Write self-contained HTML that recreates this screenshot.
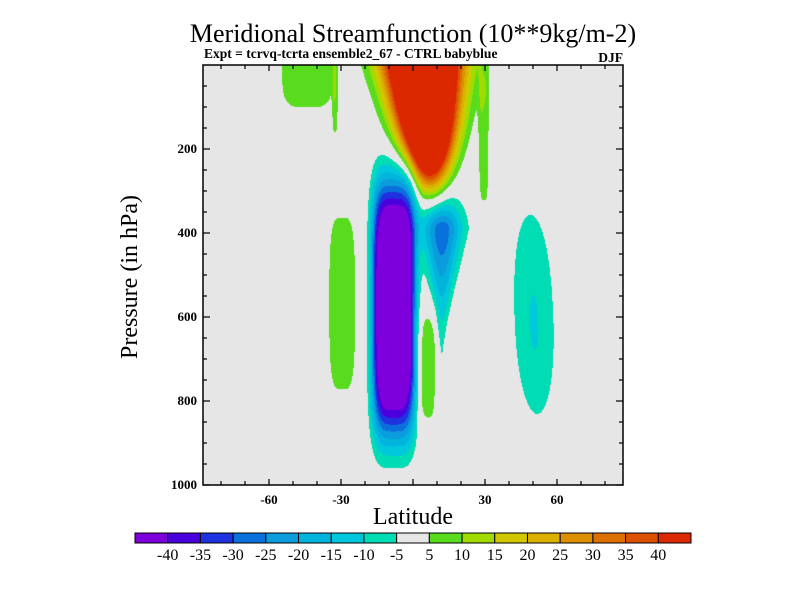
<!DOCTYPE html>
<html><head><meta charset="utf-8"><style>
html,body{margin:0;padding:0;background:#fff;}
#wrap{position:relative;width:800px;height:600px;overflow:hidden;font-family:"Liberation Serif",serif;}
canvas{position:absolute;left:203px;top:65px;}
svg{position:absolute;left:0;top:0;}
</style></head><body>
<div id="wrap">
<canvas id="cv" width="420" height="420"></canvas>
<svg id="sv" width="800" height="600">
<text x="413" y="42" text-anchor="middle" font-size="26" font-family="Liberation Serif, serif">Meridional Streamfunction (10**9kg/m-2)</text>
<text x="204" y="58" font-size="13.5" font-weight="bold" font-family="Liberation Serif, serif">Expt = tcrvq-tcrta  ensemble2_67 - CTRL babyblue</text>
<text x="623" y="62" text-anchor="end" font-size="13.5" font-weight="bold" font-family="Liberation Serif, serif">DJF</text>
<text x="413" y="524" text-anchor="middle" font-size="24" font-family="Liberation Serif, serif">Latitude</text>
<text x="137" y="277" text-anchor="middle" font-size="24" font-family="Liberation Serif, serif" transform="rotate(-90 137 277)">Pressure (in hPa)</text>
<g id="axes"></g>
<g id="cbar"></g>
</svg>
</div>
<script>
// contour levels & colours
const levels = [-40,-35,-30,-25,-20,-15,-10,-5,5,10,15,20,25,30,35,40];
const colors = ["#7d00dc","#4a00dc","#1e32e0","#0a70dc","#0a9cdc","#00b4dc","#00c8dc","#00dcb4","#e6e6e6","#5adc1e","#a0dc00","#d2c800","#dcb000","#dc9000","#dc7000","#dc5000","#dc2800"];
const cbarLabels = ["-40","-35","-30","-25","-20","-15","-10","-5","5","10","15","20","25","30","35","40"];
const xTickLabels = [-60,-30,30,60];
const yTickLabels = [200,400,600,800,1000];
// field features
const blobLat   = [4,   29.5, -44, -8,   12,  -29.5, 5.5, 50.5, -32.5];
const blobP     = [0,   100,  0,   570,  390, 568,   720, 620,  60];
const blobWLat  = [14.5,2.3,  12,  8.9,  8.5, 6.5,   4.3, 9.5,  1.2];
const blobWPUp  = [1,   100,  1,   290,  70,  263,   145, 300,  100];
const blobWPDn  = [262, 275,  115, 310,  210, 263,   145, 240,  125];
const blobAmp   = [117, 8,    9,   -62,  -29, 8,     8,   -10.3, 7];
const blobLatPow= [2,   4,    4,   4,    2,   4,     4,   2,    4];
const blobPPow  = [4,   4,    4,   4,    1.6, 3,     4,   2.5,  4];
const blobTilt  = [1.2, 0,    0,   0,    0,   0,     0,   0.6,  0];
const blobShrink= [0.17,0,    0,   0,    0.3, 0,     0,   0.05, 0];

const X0=203,X1=623,Y0=65,Y1=485,LAT0=-87.5,LAT1=87.5;
const xs = lat => X0+(lat-LAT0)/(LAT1-LAT0)*(X1-X0);
const ys = p => Y0+p/1000*(Y1-Y0);

function field(lat,p){
  let v=0;
  for(let i=0;i<blobAmp.length;i++){
    const dp=p-blobP[i];
    const cl=blobLat[i]+blobTilt[i]*dp/100;
    const lw=blobWLat[i]*Math.max(0.15,1-blobShrink[i]*Math.max(dp,0)/100);
    const wp=dp<0?blobWPUp[i]:blobWPDn[i];
    const e=Math.pow(Math.abs(lat-cl)/lw,blobLatPow[i])+Math.pow(Math.abs(dp)/wp,blobPPow[i]);
    if(e<30) v+=blobAmp[i]*Math.exp(-e);
  }
  return v;
}
function hex(c){return [parseInt(c.substr(1,2),16),parseInt(c.substr(3,2),16),parseInt(c.substr(5,2),16)];}
const rgb=colors.map(hex);
const cv=document.getElementById('cv');const ctx=cv.getContext('2d');
const img=ctx.createImageData(420,420);
for(let j=0;j<420;j++){
  const p=(j+0.5)/420*1000;
  for(let i=0;i<420;i++){
    const lat=LAT0+(i+0.5)/420*(LAT1-LAT0);
    const v=field(lat,p);
    let k=0;while(k<levels.length&&v>=levels[k])k++;
    const c=rgb[k];const o=(j*420+i)*4;
    img.data[o]=c[0];img.data[o+1]=c[1];img.data[o+2]=c[2];img.data[o+3]=255;
  }
}
ctx.putImageData(img,0,0);

const NS="http://www.w3.org/2000/svg";
function mk(tag,attrs,parent){const e=document.createElementNS(NS,tag);for(const k in attrs)e.setAttribute(k,attrs[k]);parent.appendChild(e);return e;}
const ax=document.getElementById('axes');
const frame=mk('rect',{x:X0,y:Y0,width:X1-X0,height:Y1-Y0,fill:'none',stroke:'#000','stroke-width':1.5},ax);


for(let lat=-80;lat<=80;lat+=10){
  const L=(lat%30===0)?6:4;const x=xs(lat);
  const t1=mk('line',{x1:x,y1:Y1,x2:x,y2:Y1-L,stroke:'#000','stroke-width':1.2},ax);
  
  
  const t2=mk('line',{x1:x,y1:Y0,x2:x,y2:Y0+L,stroke:'#000','stroke-width':1.2},ax);
  
  
}
xTickLabels.forEach(v=>{
  const t=mk('text',{x:xs(v),y:Y1+19,'text-anchor':'middle','font-size':13,'font-weight':'bold','font-family':'Liberation Serif, serif'},ax);
  t.textContent=v;
  
  
});
for(let p=50;p<=1000;p+=50){
  const L=(p%200===0)?7:4;const y=ys(p);
  const t1=mk('line',{x1:X0,y1:y,x2:X0+L,y2:y,stroke:'#000','stroke-width':1.2},ax);
  
  
  const t2=mk('line',{x1:X1,y1:y,x2:X1-L,y2:y,stroke:'#000','stroke-width':1.2},ax);
  
  
}
yTickLabels.forEach(v=>{
  const t=mk('text',{x:197,y:ys(v)+4,'text-anchor':'end','font-size':13,'font-weight':'bold','font-family':'Liberation Serif, serif'},ax);
  t.textContent=v;
  
  
});
// colorbar
const cb=document.getElementById('cbar');
const CB0=135,CB1=691,CBY=533,CBH=10,bw=(CB1-CB0)/colors.length;
colors.forEach((c,i)=>{
  const r=mk('rect',{x:CB0+i*bw,y:CBY,width:bw,height:CBH,fill:c,stroke:'#000','stroke-width':1},cb);
  
  
});
cbarLabels.forEach((s,i)=>{
  const t=mk('text',{x:CB0+(i+1)*bw,y:CBY+27,'text-anchor':'middle','font-size':16,'font-family':'Liberation Serif, serif'},cb);
  t.textContent=s;
  
  
});
</script>
</body></html>
